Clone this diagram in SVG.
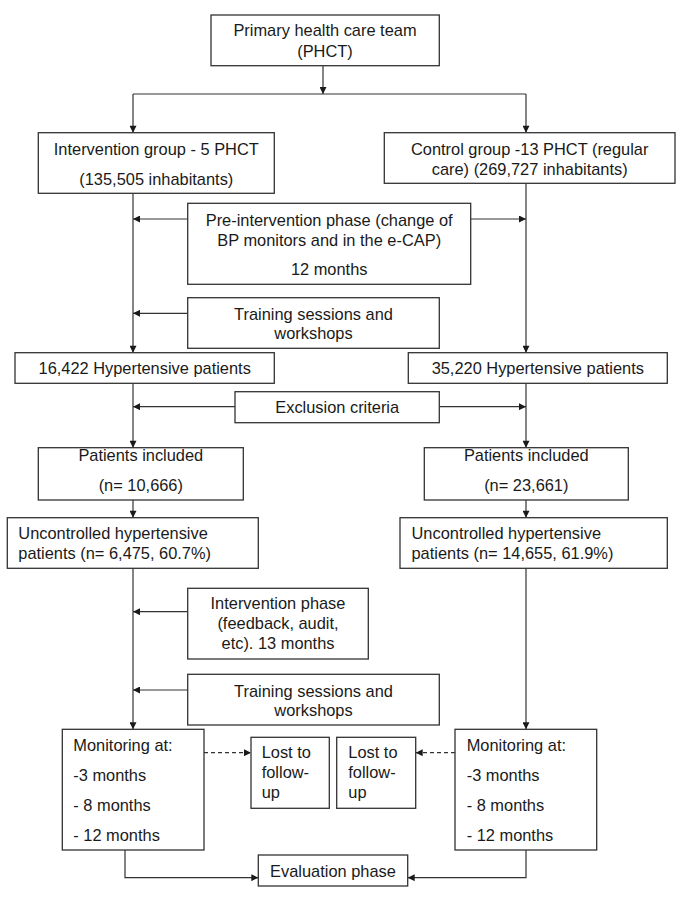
<svg xmlns="http://www.w3.org/2000/svg" width="685" height="897" viewBox="0 0 685 897">
<style>
.box{fill:#fff;stroke:#333;stroke-width:1.3}
.t{font-family:"Liberation Sans",Arial,sans-serif;font-size:16.4px;fill:#1a1a1a}
.c{text-anchor:middle}
.ln{fill:none;stroke:#333;stroke-width:1.2}
.d{stroke-dasharray:4 3}
</style>
<defs>
<marker id="ah" viewBox="0 0 10 10" refX="10" refY="5" markerWidth="8" markerHeight="7" markerUnits="userSpaceOnUse" orient="auto">
<path d="M0,0 L10,5 L0,10 Z" fill="#1a1a1a"/>
</marker>
</defs>
<rect width="685" height="897" fill="#fff"/>
<g id="connectors">
<path class="ln" d="M323,66 V94" marker-end="url(#ah)"/>
<path class="ln" d="M133,94 H526"/>
<path class="ln" d="M133,94 V132.7" marker-end="url(#ah)"/>
<path class="ln" d="M526,94 V132.7" marker-end="url(#ah)"/>
<path class="ln" d="M133,193.3 V352.7" marker-end="url(#ah)"/>
<path class="ln" d="M526,183.3 V352.7" marker-end="url(#ah)"/>
<path class="ln" d="M187.7,219 H133" marker-end="url(#ah)"/>
<path class="ln" d="M470.7,219 H526" marker-end="url(#ah)"/>
<path class="ln" d="M187.7,313.3 H133" marker-end="url(#ah)"/>
<path class="ln" d="M133,383.3 V447.7" marker-end="url(#ah)"/>
<path class="ln" d="M526,383.3 V447.7" marker-end="url(#ah)"/>
<path class="ln" d="M235,406.7 H133" marker-end="url(#ah)"/>
<path class="ln" d="M439.3,406.7 H526" marker-end="url(#ah)"/>
<path class="ln" d="M133,500 V517.7" marker-end="url(#ah)"/>
<path class="ln" d="M526,500 V517.7" marker-end="url(#ah)"/>
<path class="ln" d="M133,568.3 V729.3" marker-end="url(#ah)"/>
<path class="ln" d="M526,568.3 V729.3" marker-end="url(#ah)"/>
<path class="ln" d="M187.7,611.7 H133" marker-end="url(#ah)"/>
<path class="ln" d="M187.7,690 H133" marker-end="url(#ah)"/>
<path class="ln d" d="M204,752.7 H251" marker-end="url(#ah)"/>
<path class="ln d" d="M455,752.7 H415.7" marker-end="url(#ah)"/>
<path class="ln" d="M125,850 V877.7 H258.3" marker-end="url(#ah)"/>
<path class="ln" d="M526,850 V877.7 H407.7" marker-end="url(#ah)"/>
</g>
<g id="phct">
<rect class="box" x="211" y="15" width="228.3" height="50.7"/>
<text class="t c" x="325" y="36">Primary health care team</text>
<text class="t c" x="325" y="57">(PHCT)</text>
</g>
<g id="intervention-group">
<rect class="box" x="38.3" y="132.7" width="236" height="60.6"/>
<text class="t c" x="156.3" y="155">Intervention group - 5 PHCT</text>
<text class="t c" x="156.3" y="184.5">(135,505 inhabitants)</text>
</g>
<g id="control-group">
<rect class="box" x="384.3" y="132.7" width="290.7" height="50.6"/>
<text class="t c" x="529.7" y="155">Control group -13 PHCT (regular</text>
<text class="t c" x="529.7" y="175">care) (269,727 inhabitants)</text>
</g>
<g id="pre-intervention">
<rect class="box" x="187.7" y="203.3" width="283" height="81"/>
<text class="t c" x="329.2" y="226">Pre-intervention phase (change of</text>
<text class="t c" x="329.2" y="245.5">BP monitors and in the e-CAP)</text>
<text class="t c" x="329.2" y="275">12 months</text>
</g>
<g id="training-1">
<rect class="box" x="187.7" y="297.7" width="251.6" height="50.6"/>
<text class="t c" x="313.5" y="320">Training sessions and</text>
<text class="t c" x="313.5" y="339">workshops</text>
</g>
<g id="hyp-left">
<rect class="box" x="15" y="352.7" width="259.3" height="30.6"/>
<text class="t c" x="144.7" y="374">16,422 Hypertensive patients</text>
</g>
<g id="hyp-right">
<rect class="box" x="408.3" y="352.7" width="259" height="30.6"/>
<text class="t c" x="537.8" y="374">35,220 Hypertensive patients</text>
</g>
<g id="exclusion">
<rect class="box" x="235" y="391.7" width="204.3" height="31"/>
<text class="t c" x="337.2" y="413">Exclusion criteria</text>
</g>
<g id="included-left">
<rect class="box" x="38.3" y="447.7" width="205" height="52.3"/>
<text class="t c" x="140.8" y="461">Patients included</text>
<text class="t c" x="140.8" y="490.5">(n= 10,666)</text>
</g>
<g id="included-right">
<rect class="box" x="424.3" y="447.7" width="204" height="52.3"/>
<text class="t c" x="526.3" y="461">Patients included</text>
<text class="t c" x="526.3" y="490.5">(n= 23,661)</text>
</g>
<g id="uncontrolled-left">
<rect class="box" x="7.3" y="517.7" width="251" height="50.6"/>
<text class="t" x="18.3" y="539.3">Uncontrolled hypertensive</text>
<text class="t" x="18.3" y="559.3">patients (n= 6,475, 60.7%)</text>
</g>
<g id="uncontrolled-right">
<rect class="box" x="400" y="517.7" width="267.3" height="50.6"/>
<text class="t" x="411.5" y="539.3">Uncontrolled hypertensive</text>
<text class="t" x="411.5" y="559.3">patients (n= 14,655, 61.9%)</text>
</g>
<g id="intervention-phase">
<rect class="box" x="187.7" y="588.3" width="180.6" height="70.7"/>
<text class="t c" x="278" y="609.3">Intervention phase</text>
<text class="t c" x="278" y="629.3">(feedback, audit,</text>
<text class="t c" x="278" y="649">etc). 13 months</text>
</g>
<g id="training-2">
<rect class="box" x="187.7" y="674.3" width="251.6" height="50.7"/>
<text class="t c" x="313.5" y="696.5">Training sessions and</text>
<text class="t c" x="313.5" y="715.5">workshops</text>
</g>
<g id="monitoring-left">
<rect class="box" x="62.3" y="729.3" width="141.7" height="120.7"/>
<text class="t" x="73.3" y="751">Monitoring at:</text>
<text class="t" x="73.3" y="781">-3 months</text>
<text class="t" x="73.3" y="811">- 8 months</text>
<text class="t" x="73.3" y="841">- 12 months</text>
</g>
<g id="lost-left">
<rect class="box" x="251" y="737.3" width="78.3" height="71"/>
<text class="t" x="261.7" y="758.3">Lost to</text>
<text class="t" x="261.7" y="778.3">follow-</text>
<text class="t" x="261.7" y="797.5">up</text>
</g>
<g id="lost-right">
<rect class="box" x="336.7" y="737.3" width="79" height="71"/>
<text class="t" x="348.3" y="758.3">Lost to</text>
<text class="t" x="348.3" y="778.3">follow-</text>
<text class="t" x="348.3" y="797.5">up</text>
</g>
<g id="monitoring-right">
<rect class="box" x="455" y="729.3" width="141.7" height="120.7"/>
<text class="t" x="466.7" y="751">Monitoring at:</text>
<text class="t" x="466.7" y="781">-3 months</text>
<text class="t" x="466.7" y="811">- 8 months</text>
<text class="t" x="466.7" y="841">- 12 months</text>
</g>
<g id="evaluation">
<rect class="box" x="258.3" y="855" width="149.4" height="31"/>
<text class="t c" x="333" y="876.7">Evaluation phase</text>
</g>
</svg>
